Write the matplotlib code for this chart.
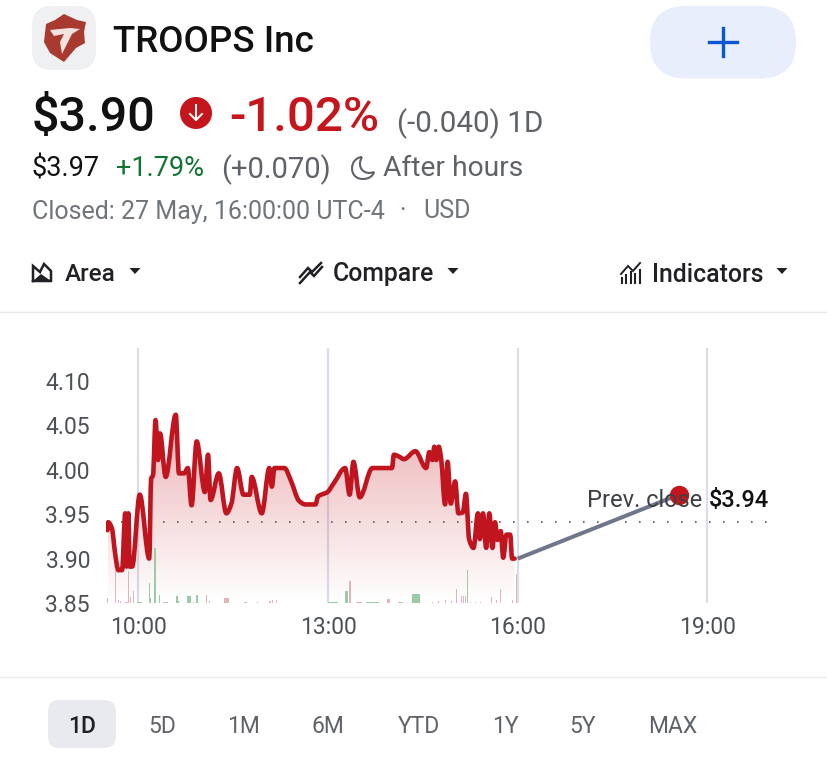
import matplotlib
matplotlib.use('Agg')
import matplotlib.pyplot as plt
import numpy as np
from matplotlib.patches import Circle, FancyBboxPatch, PathPatch, Polygon
from matplotlib.path import Path

plt.rcParams['font.family'] = ['Roboto', 'DejaVu Sans']

# price line (hours, price)
times = [9.51, 9.52, 9.58, 9.63, 9.68, 9.74, 9.79, 9.81, 9.84, 9.86, 9.90, 10.02, 10.17, 10.20, 10.23,
         10.27, 10.31, 10.34, 10.43, 10.59, 10.64, 10.72, 10.78, 10.84, 10.92, 11.05, 11.10, 11.14, 11.27,
         11.39, 11.47, 11.56, 11.66, 11.76, 11.79, 11.95, 12.07, 12.11, 12.15, 12.31, 12.41, 12.54, 12.64,
         12.80, 12.84, 12.99, 13.09, 13.27, 13.34, 13.40, 13.50, 13.70, 14.01, 14.04, 14.12, 14.20, 14.38,
         14.55, 14.60, 14.65, 14.68, 14.71, 14.75, 14.79, 14.85, 14.89, 14.94, 15.01, 15.06, 15.13, 15.18,
         15.23, 15.30, 15.37, 15.40, 15.45, 15.50, 15.55, 15.60, 15.64, 15.68, 15.73, 15.77, 15.82, 15.88,
         15.91, 15.95]
prices = [3.932, 3.941, 3.934, 3.906, 3.887, 3.887, 3.951, 3.891, 3.951, 3.891, 3.891, 3.972, 3.900, 3.990, 3.994,
          4.056, 4.011, 4.041, 3.992, 4.062, 3.996, 3.996, 4.002, 3.960, 4.032, 3.975, 4.017, 3.966, 3.996,
          3.951, 3.962, 4.002, 3.972, 3.972, 3.992, 3.951, 4.002, 3.981, 4.002, 4.002, 3.988, 3.965, 3.961,
          3.961, 3.970, 3.975, 3.985, 4.002, 3.972, 4.009, 3.969, 4.002, 4.002, 4.017, 4.015, 4.012, 4.021,
          4.002, 4.020, 4.011, 4.026, 4.011, 4.026, 4.011, 3.961, 4.009, 3.962, 3.987, 3.951, 3.952, 3.973,
          3.922, 3.912, 3.951, 3.922, 3.951, 3.912, 3.951, 3.912, 3.941, 3.921, 3.931, 3.901, 3.927, 3.927,
          3.900, 3.900]

after_times = [16.0, 18.55]
after_prices = [3.900, 3.972]
prev_close = 3.9415

# volume bars (hours, height, length of the bar in minutes, 1 = up)
vol_times = [9.51, 9.64, 9.68, 9.71, 9.81, 9.84, 9.88, 9.92, 10.02, 10.17, 10.19, 10.26, 10.33, 10.43, 10.61,
             10.64, 10.80, 10.87, 10.92, 11.07, 11.12, 11.39, 11.69, 11.89, 12.08, 12.12, 12.19,
             13.08, 13.29, 13.34, 13.49, 13.70, 13.95, 14.15, 14.39, 14.65, 14.75, 14.85, 14.95, 15.03, 15.11,
             15.14, 15.17, 15.21, 15.25, 15.33, 15.41, 15.58, 15.66, 15.73, 15.91, 15.98]
vol_heights = [5, 32, 3, 2, 1, 32, 6, 12, 1, 20, 5, 55, 8, 1, 7,
               2, 7, 1, 8, 8, 2, 5, 1, 1, 2, 3, 3,
               1, 12, 22, 1, 1.5, 4, 1, 9, 1, 2, 3, 2, 14, 7,
               7, 7, 33, 1, 1, 1, 6, 3, 14, 3, 29]
vol_minutes = [1, 1, 1, 1, 2, 1, 1, 1, 5, 1, 1, 2, 1, 5, 2,
               1, 3, 1, 2, 1, 1, 5, 3, 1, 1, 1, 1,
               10, 3, 2, 6, 12, 3, 5, 8, 1, 1, 1, 1, 1, 1,
               1, 1, 1, 1, 1, 1, 1, 1, 1, 1, 1]
vol_up = [0, 0, 0, 0, 0, 0, 0, 0, 1, 1, 1, 1, 1, 0, 1,
          1, 1, 1, 1, 0, 0, 0, 0, 0, 0, 0, 0,
          1, 1, 0, 0, 1, 0, 0, 1, 0, 0, 0, 0, 0, 0,
          0, 0, 1, 0, 0, 0, 0, 0, 0, 0, 0]

tick_hours = [10, 13, 16, 19]
tick_labels = ['10:00', '13:00', '16:00', '19:00']
price_ticks = [3.85, 3.90, 3.95, 4.00, 4.05, 4.10]
ranges = ['1D', '5D', '1M', '6M', 'YTD', '1Y', '5Y', 'MAX']

RED = '#c5161d'
GREY = '#5f6368'
DARK = '#202124'
W, H = 828, 761


def smooth_path(x, y):
    # monotone bezier segments through the points
    x = np.array(x)
    y = np.array(y)
    d = np.diff(y) / np.diff(x)
    m = np.zeros(len(x))
    for i in range(1, len(x) - 1):
        if d[i - 1] * d[i] > 0:
            m[i] = 2 * d[i - 1] * d[i] / (d[i - 1] + d[i])
    verts = [(x[0], y[0])]
    codes = [Path.MOVETO]
    for i in range(len(x) - 1):
        h = (x[i + 1] - x[i]) / 3
        verts += [(x[i] + h, y[i] + m[i] * h), (x[i + 1] - h, y[i + 1] - m[i + 1] * h), (x[i + 1], y[i + 1])]
        codes += [Path.CURVE4] * 3
    return verts, codes


fig = plt.figure(figsize=(W / 100, H / 100), dpi=100)

# chart
ax = fig.add_axes([106 / W, 1 - 603 / H, 664 / W, 255 / H], zorder=1)
ax.patch.set_alpha(0)
x0, x1 = 9.486, 19.99
y0, y1 = 3.85, 4.1372

vax = ax.twinx()
vax.set_ylim(0, 255)
vax.axis('off')
vax.set_zorder(1)
for t, h, w, u in zip(vol_times, vol_heights, vol_minutes, vol_up):
    vax.bar(t, h, width=max(w, 1) / 60, color='#9ccba6' if u else '#e0b4b9', linewidth=0)

verts, codes = smooth_path(times, prices)
fill_path = Path(verts + [(times[-1], y0), (times[0], y0), (times[0], y0)], codes + [Path.LINETO, Path.LINETO, Path.CLOSEPOLY])
grad = np.zeros((256, 2, 4))
grad[..., 0] = 197 / 255
grad[..., 1] = 22 / 255
grad[..., 2] = 29 / 255
grad[..., 3] = np.linspace(0.34, 0, 256)[:, None]
im = ax.imshow(grad, extent=[times[0], times[-1], y0, 4.065], origin='upper', aspect='auto', zorder=2)
im.set_clip_path(PathPatch(fill_path, transform=ax.transData))

for t in tick_hours:
    ax.plot([t, t], [y0, y1], color='#dcdde8', lw=1.6, zorder=1, solid_capstyle='butt')
ax.plot([9.72, x1 - 0.02], [prev_close, prev_close], color='#6b6f75', lw=1.44, ls=(0, (0.8, 6.2)), zorder=3)

ax.add_patch(PathPatch(Path(verts, codes), fill=False, edgecolor='#c0141f', lw=3.3, joinstyle='round', capstyle='round', zorder=6))
ax.plot(after_times, after_prices, color='#70778a', lw=2.9, solid_capstyle='butt', zorder=5)
ax.plot(after_times[1], after_prices[1], 'o', color=RED, ms=14, mew=0, zorder=7)

ax.set_xlim(x0, x1)
ax.set_ylim(y0, y1)
ax.set_xticks(tick_hours)
ax.set_xticklabels(tick_labels)
ax.set_yticks(price_ticks)
ax.set_yticklabels([f'{p:.2f}' for p in price_ticks], va='center_baseline')
ax.tick_params(axis='both', length=0, labelsize=16.5, labelcolor='#4d5156')
ax.tick_params(axis='x', pad=9.5)
ax.tick_params(axis='y', pad=11.5)
for s in ax.spines.values():
    s.set_visible(False)

# everything around the chart, in pixels
ui = fig.add_axes([0, 0, 1, 1], zorder=5)
ui.set_xlim(0, W)
ui.set_ylim(H, 0)
ui.axis('off')


def label(x, y, s, size, color=GREY, ha='left', weight='normal'):
    ui.text(x, y, s, fontsize=size, color=color, ha=ha, va='center_baseline', fontweight=weight)


def triangle(x, y):
    ui.add_patch(Polygon([(x - 5.5, y - 3), (x + 5.5, y - 3), (x, y + 3)], color=DARK, lw=0))


def icon(pts, lw=1.8):
    ui.plot(*zip(*pts), color=DARK, lw=lw, solid_joinstyle='miter')


# logo
ui.add_patch(FancyBboxPatch((44, 18), 40, 40, boxstyle='round,pad=12,rounding_size=20', fc='#eff0f2', ec='none'))
ui.add_patch(Polygon([(64, 14), (77, 20), (86, 22), (84, 32), (85, 43), (76, 48), (64, 62), (50, 53), (44, 42), (46, 24), (55, 20)],
                     fc='#a83a30', ec='none'))
ui.add_patch(Polygon([(50, 30), (70, 28), (80, 29), (72, 34), (68, 42), (62, 54), (60, 42), (64, 34), (54, 36)], fc='#f3e3df', ec='none'))
label(113, 38, 'TROOPS Inc', 26.5, '#111111', weight='medium')

# add button
ui.add_patch(FancyBboxPatch((686, 42), 74, 0.5, boxstyle='round,pad=36,rounding_size=36', fc='#e8eefc', ec='none'))
ui.plot([709, 737], [42, 42], color='#0b57d0', lw=2.4)
ui.plot([723, 723], [28, 56], color='#0b57d0', lw=2.4)

# price rows
label(32, 113, '$3.90', 35, '#111111', weight='medium')
ui.add_patch(Circle((196, 113), 16, color=RED, lw=0))
ui.plot([196, 196], [105, 120], color='white', lw=1.4)
ui.plot([190, 196, 202], [114, 120, 114], color='white', lw=1.4)
label(229, 113, '-1.02%', 35.5, RED, weight='medium')
label(397, 120, '(-0.040) 1D', 21.3, GREY)

label(32, 166, '$3.97', 19.5, '#111111')
label(116, 166, '+1.79%', 19.5, '#137333')
label(221, 166, '(+0.070)', 21, GREY)
ui.add_patch(PathPatch(Path([(362, 157), (349, 158), (348, 179), (363, 179), (369, 179), (373, 176), (374, 172),
                             (364, 176), (356, 167), (362, 157)],
                            [Path.MOVETO] + [Path.CURVE4] * 9), fill=False, ec=GREY, lw=1.5))
label(383, 166, 'After hours', 20.3, GREY)

label(32, 209, 'Closed: 27 May, 16:00:00 UTC-4', 18, '#70757a')
label(402, 209, '·', 18, '#70757a', ha='center')
label(423, 209, 'USD', 18, '#70757a')

# chart type row
icon([(33, 281), (33, 266), (40, 272), (44, 264), (51, 271), (51, 281), (33, 281)])
ui.add_patch(Polygon([(33, 281), (41, 274), (51, 281)], color=DARK, lw=0))
label(65, 272, 'Area', 17.5, DARK, weight='medium')
triangle(135, 271)
icon([(300, 277), (308, 268), (312, 272), (321, 263)])
icon([(300, 283), (310, 272), (314, 276), (322, 267)])
label(333, 272, 'Compare', 17.8, DARK, weight='medium')
triangle(453, 271)
icon([(621, 274), (628, 266), (633, 271), (640, 263)], lw=1.4)
for i, top in enumerate([278, 275, 272, 274, 270]):
    ui.plot([622 + 4.4 * i] * 2, [top, 283], color=DARK, lw=1.5)
label(652, 272, 'Indicators', 17.8, DARK, weight='medium')
triangle(782, 271)

ui.plot([0, W], [312, 312], color='#e8eaed', lw=1)
ui.plot([0, W], [677, 677], color='#e8eaed', lw=1)

# prev close note sits on top of the dot
label(702, 498, 'Prev. close', 17, '#3c4043', ha='right')
label(769, 498, '$3.94', 17, '#111111', ha='right', weight='medium')

# range buttons
ui.add_patch(FancyBboxPatch((58, 710), 48, 28, boxstyle='round,pad=10,rounding_size=12', fc='#e8eaed', ec='none'))
for name, x in zip(ranges, [82, 162, 244, 328, 419, 505, 583, 673]):
    label(x, 724, name, 16.5, DARK if name == '1D' else GREY, ha='center', weight='medium' if name == '1D' else 'normal')

fig.savefig('out.png', dpi=100, facecolor='white')
